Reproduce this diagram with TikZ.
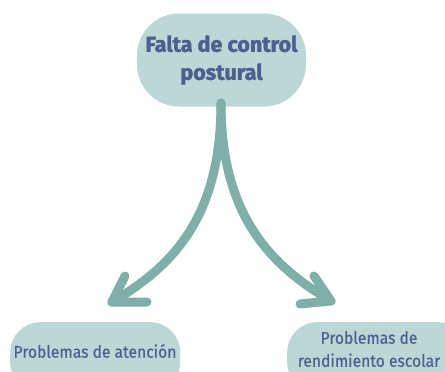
\documentclass[tikz,border=0pt]{standalone}
\usepackage{fontspec}
\setmainfont{Fira Sans}
\definecolor{pillfill}{HTML}{BDD6D6}
\definecolor{txtblue}{HTML}{4A6190}
\definecolor{arrowc}{HTML}{80AFAA}
\begin{document}
\begin{tikzpicture}[x=1pt,y=-1pt,
  pill/.style={fill=pillfill, draw=none, text=txtblue, align=center, inner sep=0pt},
  lbl/.style={text=txtblue, align=center, inner sep=0pt,
    font=\fontsize{17}{23}\selectfont\addfontfeature{FakeStretch=0.92,FakeBold=0.6}},
  conn/.style={draw=arrowc, line width=9pt, line cap=round, line join=round}]
\useasboundingbox (0,0) rectangle (445,372);
\clip (0,0) rectangle (445,372);
% nodes
\node[pill, minimum width=169pt, minimum height=93pt, rounded corners=42pt,
  font=\bfseries\fontsize{21.5}{28}\selectfont\addfontfeature{FakeBold=1.8,FakeStretch=1.0}] (top) at (221.5,60) {Falta de control\\postural};
\node[pill, minimum width=170pt, minimum height=70pt, rounded corners=30pt, anchor=north west] (left) at (10,322) {};
\node[lbl] (lefttxt) at (95,351) {Problemas de atención};
\node[pill, minimum width=180pt, minimum height=70pt, rounded corners=30pt, anchor=north west] (right) at (287,322) {};
\node[lbl] (righttxt) at (369,349) {Problemas de\\rendimiento escolar};
% connectors
\coordinate (s) at (221,103);
\coordinate (lt) at (112,302);
\coordinate (rt) at (331,301);
\draw[conn] (s) .. controls (221,215) and (175,265) .. (lt);
\draw[conn] (s) .. controls (221,215) and (270,265) .. (rt);
\draw[conn] (125,276) -- (lt) -- (147,302);
\draw[conn] (314,276) -- (rt) -- (300,304);
\end{tikzpicture}
\end{document}
